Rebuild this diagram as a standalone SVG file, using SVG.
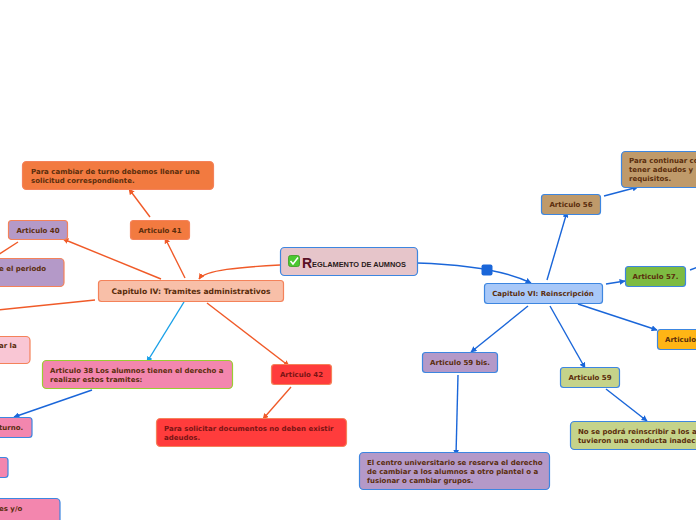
<svg xmlns="http://www.w3.org/2000/svg" width="696" height="520" viewBox="0 0 696 520">
<defs>
<marker id="ao" viewBox="0 0 10 10" refX="9" refY="5" markerWidth="6" markerHeight="6" orient="auto" markerUnits="userSpaceOnUse"><path d="M0,0 L10,5 L0,10 z" fill="#f05a28"/></marker>
<marker id="ab" viewBox="0 0 10 10" refX="9" refY="5" markerWidth="6" markerHeight="6" orient="auto" markerUnits="userSpaceOnUse"><path d="M0,0 L10,5 L0,10 z" fill="#1a66d9"/></marker>
<marker id="ac" viewBox="0 0 10 10" refX="9" refY="5" markerWidth="6" markerHeight="6" orient="auto" markerUnits="userSpaceOnUse"><path d="M0,0 L10,5 L0,10 z" fill="#18a0e8"/></marker>
</defs>
<style>
text{font-family:"DejaVu Sans",Verdana,sans-serif;font-weight:bold;font-size:7px;fill:#5a2d0c}
.c{text-anchor:middle}
.r{fill:#7a1414}
.bo{stroke:#f4825a;stroke-width:1.2}
.bb{stroke:#3d86e0;stroke-width:1.2}
.lo{stroke:#f05a28;stroke-width:1.4;fill:none}
.lb{stroke:#1a66d9;stroke-width:1.4;fill:none}
.lc{stroke:#18a0e8;stroke-width:1.4;fill:none}
.orange{fill:#f27a40}
.purple{fill:#b499c8}
.pink{fill:#f386ae}
.lpink{fill:#f9c6d4}
.red{fill:#ff3c3c}
.tan{fill:#bf9a6a}
.green{fill:#7dbb42}
.yellow{fill:#ffb515}
.lgreen{fill:#c5d38a}
</style>
<g id="connectors">
<path class="lo" d="M280,265 C240,267 205,270 199,279" marker-end="url(#ao)"/>
<path class="lb" d="M417,263 C450,264 500,268 531,283" marker-end="url(#ab)"/>
<rect x="481.5" y="264.5" width="11" height="11" rx="2" fill="#1a66d9"/>
<line class="lo" x1="185" y1="278" x2="165" y2="238" marker-end="url(#ao)"/>
<line class="lo" x1="150" y1="217" x2="129" y2="189" marker-end="url(#ao)"/>
<line class="lo" x1="161" y1="279" x2="63" y2="239" marker-end="url(#ao)"/>
<line class="lo" x1="18" y1="242" x2="-2" y2="255"/>
<line class="lo" x1="95" y1="300" x2="-2" y2="310"/>
<line class="lc" x1="184" y1="302" x2="147" y2="362" marker-end="url(#ac)"/>
<line class="lo" x1="207" y1="303" x2="289" y2="366" marker-end="url(#ao)"/>
<line class="lo" x1="291" y1="387" x2="263" y2="419" marker-end="url(#ao)"/>
<line class="lb" x1="92" y1="390" x2="14" y2="417" marker-end="url(#ab)"/>
<line class="lb" x1="547" y1="280" x2="567" y2="212" marker-end="url(#ab)"/>
<line class="lb" x1="604" y1="196" x2="638" y2="187" marker-end="url(#ab)"/>
<line class="lb" x1="606" y1="284" x2="625" y2="281" marker-end="url(#ab)"/>
<line class="lb" x1="690" y1="270" x2="698" y2="267"/>
<line class="lb" x1="578" y1="304" x2="657" y2="330" marker-end="url(#ab)"/>
<line class="lb" x1="528" y1="306" x2="471" y2="352" marker-end="url(#ab)"/>
<line class="lb" x1="550" y1="306" x2="585" y2="368" marker-end="url(#ab)"/>
<line class="lb" x1="606" y1="389" x2="647" y2="421" marker-end="url(#ab)"/>
<line class="lb" x1="458" y1="375" x2="456" y2="455" marker-end="url(#ab)"/>
</g>
<g id="root">
<rect x="280.5" y="247.5" width="137" height="28" rx="4" fill="#e6c5ca" class="bb"/>
<rect x="288.5" y="255.5" width="11" height="11" rx="2" fill="#4cc830" stroke="#3a9a20" stroke-width="0.8"/>
<path d="M290.5,261 L293,264 L298,257.5" stroke="#fff" stroke-width="1.5" fill="none"/>
<text x="302" y="268" style="font-family:'Liberation Sans',Arial,sans-serif;font-size:14px;fill:#5a1025">R</text>
<text x="312" y="267" style="font-family:'Liberation Sans',Arial,sans-serif;font-size:7.4px;fill:#2a1a1a">EGLAMENTO DE AUMNOS</text>
</g>
<g id="cap4">
<rect x="98.5" y="280.5" width="185" height="21" rx="3" fill="#f8bfa8" class="bo"/>
<text x="191" y="294" class="c" style="font-size:7.6px">Capitulo IV: Tramites administrativos</text>
</g>
<g id="art41">
<rect x="130.5" y="220.5" width="59" height="19" rx="3" class="orange bo"/>
<text x="160" y="232.5" class="c">Articulo 41</text>
</g>
<g id="cambiar">
<rect x="22.5" y="161.5" width="191" height="28" rx="4" class="orange bo"/>
<text x="31" y="174">Para cambiar de turno debemos llenar una</text>
<text x="31" y="183">solicitud correspondiente.</text>
</g>
<g id="art40">
<rect x="8.5" y="220.5" width="59" height="19" rx="3" class="purple bo"/>
<text x="38" y="232.5" class="c">Articulo 40</text>
</g>
<g id="periodo">
<rect x="-20" y="258.5" width="84" height="28" rx="4" class="purple bo"/>
<text x="-1" y="271">e el periodo</text>
</g>
<g id="arla">
<rect x="-20" y="336.5" width="50" height="27" rx="4" class="lpink bo"/>
<text x="-1" y="348">ar la</text>
</g>
<g id="art38">
<rect x="42.5" y="360.5" width="190" height="28" rx="4" class="pink" stroke="#9acd32" stroke-width="1.2"/>
<text x="50" y="373">Articulo 38 Los alumnos tienen el derecho a</text>
<text x="50" y="382">realizar estos tramites:</text>
</g>
<g id="art42">
<rect x="271.5" y="364.5" width="60" height="20" rx="3" class="red bo"/>
<text x="301.5" y="377" class="c r">Articulo 42</text>
</g>
<g id="solicitar">
<rect x="156.5" y="418.5" width="190" height="28" rx="4" class="red bo"/>
<text x="164" y="431" class="r">Para solicitar documentos no deben existir</text>
<text x="164" y="440" class="r">adeudos.</text>
</g>
<g id="turno">
<rect x="-20" y="417.5" width="52" height="20" rx="3" class="pink bb"/>
<text x="-1" y="430">turno.</text>
</g>
<g id="pink2">
<rect x="-20" y="457.5" width="28" height="20" rx="3" class="pink bb"/>
</g>
<g id="yo">
<rect x="-20" y="498.5" width="80" height="32" rx="4" class="pink bb"/>
<text x="-1" y="511">es y/o</text>
</g>
<g id="cap6">
<rect x="484.5" y="283.5" width="118" height="20" rx="3" fill="#a8c8f8" class="bb"/>
<text x="543" y="296" class="c">Capitulo VI: Reinscripción</text>
</g>
<g id="art56">
<rect x="541.5" y="194.5" width="59" height="20" rx="3" class="tan bb"/>
<text x="571" y="207" class="c">Articulo 56</text>
</g>
<g id="continuar">
<rect x="621.5" y="151.5" width="90" height="36" rx="4" class="tan bb"/>
<text x="629" y="163">Para continuar co</text>
<text x="629" y="172">tener adeudos  y</text>
<text x="629" y="181">requisitos.</text>
</g>
<g id="art57">
<rect x="625.5" y="266.5" width="60" height="20" rx="3" class="green bb"/>
<text x="655.5" y="279" class="c">Articulo 57.</text>
</g>
<g id="artY">
<rect x="657.5" y="329.5" width="60" height="20" rx="3" class="yellow bb"/>
<text x="665" y="342">Articulo</text>
</g>
<g id="art59bis">
<rect x="422.5" y="352.5" width="75" height="20" rx="3" class="purple bb"/>
<text x="460" y="365" class="c">Articulo 59 bis.</text>
</g>
<g id="art59">
<rect x="560.5" y="367.5" width="59" height="20" rx="3" class="lgreen bb"/>
<text x="590" y="380" class="c">Articulo 59</text>
</g>
<g id="nose">
<rect x="570.5" y="421.5" width="140" height="28" rx="4" class="lgreen bb"/>
<text x="578" y="434">No se podrá reinscribir a los a</text>
<text x="578" y="443">tuvieron una conducta inadecu</text>
</g>
<g id="centro">
<rect x="359.5" y="452.5" width="190" height="37" rx="4" class="purple bb"/>
<text x="367" y="465">El centro universitario se reserva el derecho</text>
<text x="367" y="474">de cambiar a los alumnos a otro plantel o a</text>
<text x="367" y="483">fusionar o cambiar grupos.</text>
</g>
</svg>
